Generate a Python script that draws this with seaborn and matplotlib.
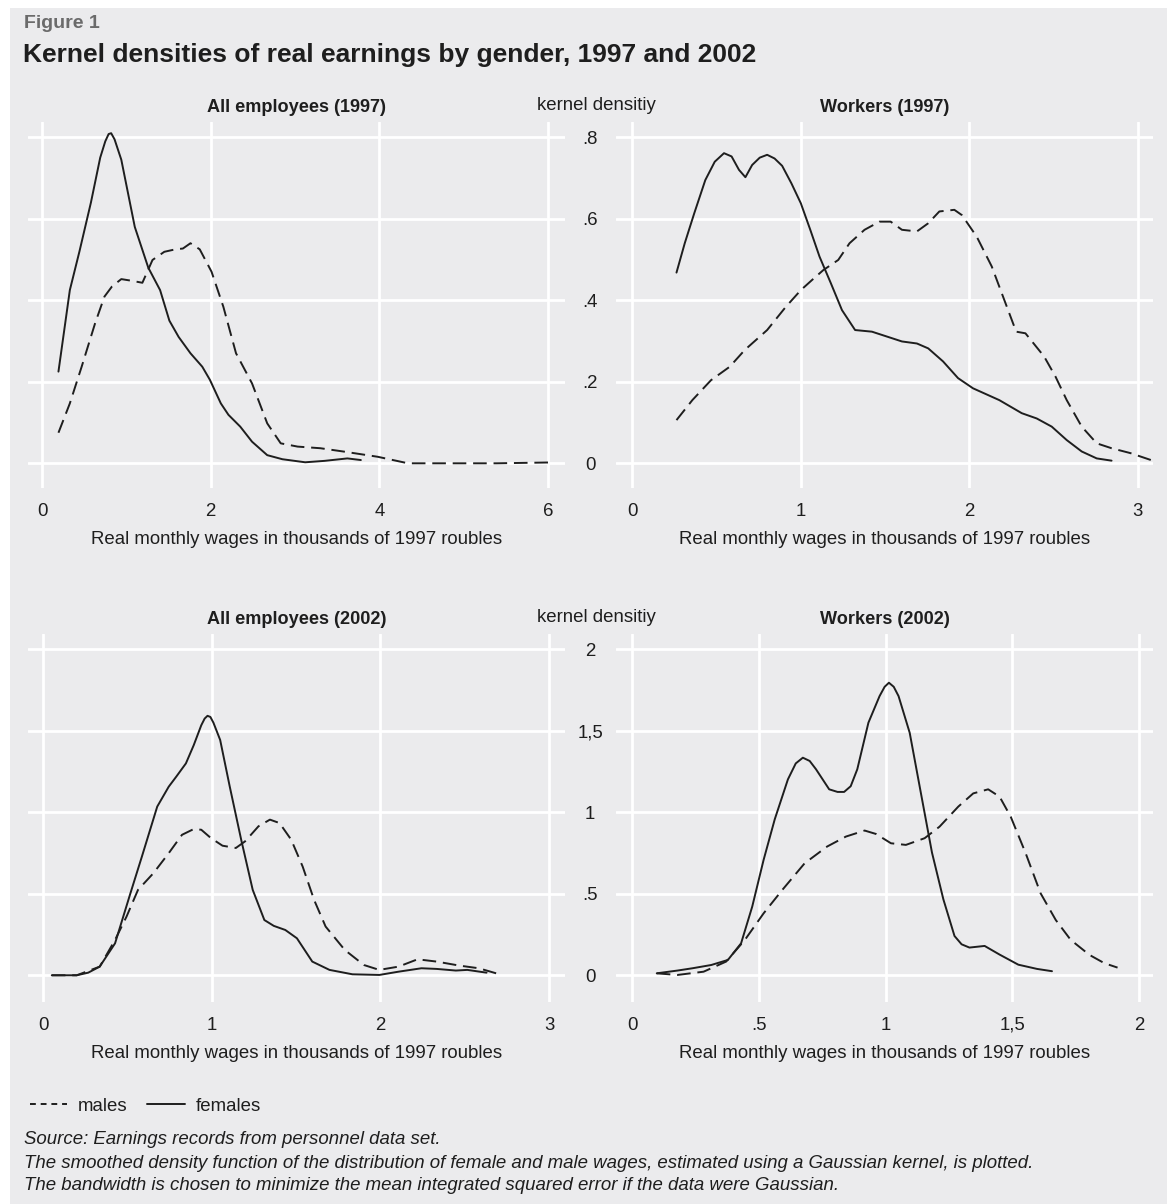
import numpy as np
import pandas as pd
import seaborn as sns
import matplotlib.pyplot as plt
from matplotlib.patches import Rectangle

# ---------------- data ----------------
# All employees (1997)
ae97_f_x = [0.195, 0.33, 0.444, 0.58, 0.69, 0.75, 0.79, 0.82, 0.86, 0.94, 1.10, 1.26, 1.40, 1.51, 1.62, 1.76,
            1.90, 1.99, 2.12, 2.21, 2.35, 2.49, 2.67, 2.85, 3.12, 3.35, 3.62, 3.78]
ae97_f_y = [0.225, 0.425, 0.52, 0.64, 0.75, 0.79, 0.808, 0.81, 0.795, 0.745, 0.58, 0.48, 0.425, 0.35, 0.31,
            0.27, 0.237, 0.205, 0.147, 0.119, 0.09, 0.053, 0.02, 0.01, 0.0025, 0.006, 0.012, 0.008]
ae97_m_x = [0.195, 0.33, 0.47, 0.63, 0.74, 0.83, 0.94, 1.06, 1.19, 1.31, 1.45, 1.58, 1.67, 1.76, 1.87, 2.01,
            2.15, 2.30, 2.49, 2.67, 2.83, 3.03, 3.30, 3.57, 3.98, 4.34, 4.93, 5.39, 6.0]
ae97_m_y = [0.075, 0.147, 0.237, 0.344, 0.409, 0.434, 0.452, 0.448, 0.443, 0.499, 0.519, 0.525, 0.527, 0.54,
            0.525, 0.47, 0.384, 0.27, 0.196, 0.098, 0.049, 0.041, 0.037, 0.029, 0.016, 0.0, 0.0, 0.0, 0.002]

# Workers (1997)
wk97_f_x = [0.262, 0.311, 0.367, 0.433, 0.489, 0.544, 0.589, 0.633, 0.671, 0.711, 0.756, 0.80, 0.844, 0.889,
            0.944, 1.0, 1.056, 1.111, 1.178, 1.244, 1.322, 1.422, 1.511, 1.60, 1.689, 1.756, 1.844, 1.933,
            2.022, 2.178, 2.311, 2.40, 2.489, 2.578, 2.667, 2.756, 2.844]
wk97_f_y = [0.468, 0.54, 0.613, 0.695, 0.74, 0.761, 0.753, 0.72, 0.702, 0.732, 0.75, 0.757, 0.748, 0.73,
            0.687, 0.638, 0.573, 0.507, 0.442, 0.376, 0.327, 0.323, 0.311, 0.299, 0.294, 0.282, 0.25, 0.209,
            0.184, 0.155, 0.123, 0.11, 0.09, 0.057, 0.029, 0.012, 0.0065]
wk97_m_x = [0.262, 0.356, 0.467, 0.578, 0.667, 0.80, 0.911, 1.0, 1.067, 1.133, 1.222, 1.289, 1.378, 1.467,
            1.533, 1.60, 1.689, 1.756, 1.822, 1.911, 1.956, 2.044, 2.133, 2.20, 2.278, 2.333, 2.444, 2.511,
            2.578, 2.667, 2.756, 2.844, 2.956, 3.078]
wk97_m_y = [0.106, 0.155, 0.204, 0.237, 0.278, 0.327, 0.384, 0.425, 0.45, 0.474, 0.499, 0.54, 0.573, 0.593,
            0.593, 0.573, 0.569, 0.589, 0.618, 0.622, 0.609, 0.556, 0.483, 0.409, 0.323, 0.319, 0.262, 0.213,
            0.155, 0.09, 0.049, 0.037, 0.025, 0.008]

# All employees (2002)
ae02_f_x = [0.052, 0.2, 0.268, 0.336, 0.427, 0.518, 0.586, 0.677, 0.745, 0.79, 0.847, 0.893, 0.938, 0.958,
            0.975, 0.992, 1.01, 1.05, 1.107, 1.175, 1.243, 1.312, 1.368, 1.436, 1.505, 1.596, 1.698, 1.834,
            1.993, 2.107, 2.243, 2.333, 2.447, 2.515, 2.629]
ae02_f_y = [0.0, 0.0, 0.016, 0.053, 0.196, 0.503, 0.728, 1.035, 1.157, 1.219, 1.30, 1.411, 1.534, 1.575,
            1.592, 1.585, 1.55, 1.444, 1.157, 0.83, 0.524, 0.339, 0.303, 0.278, 0.227, 0.084, 0.033, 0.006,
            0.002, 0.022, 0.043, 0.039, 0.029, 0.033, 0.016]
ae02_m_x = [0.052, 0.2, 0.336, 0.427, 0.495, 0.563, 0.654, 0.745, 0.824, 0.893, 0.938, 0.995, 1.064, 1.143,
            1.198, 1.277, 1.345, 1.402, 1.471, 1.539, 1.607, 1.675, 1.789, 1.902, 1.993, 2.107, 2.22, 2.333,
            2.47, 2.583, 2.686]
ae02_m_y = [0.0, 0.0, 0.053, 0.217, 0.36, 0.524, 0.626, 0.749, 0.862, 0.897, 0.893, 0.842, 0.795, 0.781,
            0.822, 0.914, 0.955, 0.934, 0.832, 0.667, 0.462, 0.299, 0.155, 0.063, 0.033, 0.053, 0.098, 0.084,
            0.059, 0.043, 0.012]

# Workers (2002)
wk02_f_x = [0.096, 0.178, 0.237, 0.311, 0.377, 0.429, 0.473, 0.518, 0.562, 0.614, 0.645, 0.673, 0.70, 0.725,
            0.777, 0.81, 0.836, 0.862, 0.888, 0.932, 0.976, 0.996, 1.013, 1.032, 1.051, 1.095, 1.139, 1.183,
            1.228, 1.272, 1.30, 1.331, 1.391, 1.45, 1.524, 1.598, 1.657]
wk02_f_y = [0.012, 0.029, 0.043, 0.063, 0.094, 0.196, 0.421, 0.708, 0.957, 1.202, 1.30, 1.335, 1.315, 1.264,
            1.141, 1.125, 1.125, 1.16, 1.264, 1.55, 1.713, 1.77, 1.795, 1.77, 1.713, 1.488, 1.12, 0.753,
            0.466, 0.241, 0.19, 0.17, 0.18, 0.127, 0.065, 0.039, 0.025]
wk02_m_x = [0.096, 0.178, 0.281, 0.37, 0.444, 0.518, 0.592, 0.68, 0.769, 0.843, 0.917, 0.962, 1.021, 1.08,
            1.154, 1.213, 1.287, 1.346, 1.405, 1.45, 1.494, 1.553, 1.612, 1.672, 1.731, 1.805, 1.864, 1.916]
wk02_m_y = [0.012, 0.002, 0.022, 0.084, 0.217, 0.38, 0.524, 0.687, 0.79, 0.851, 0.888, 0.867, 0.81, 0.8,
            0.841, 0.912, 1.035, 1.116, 1.141, 1.096, 0.973, 0.749, 0.503, 0.339, 0.217, 0.125, 0.074, 0.047]

panel_titles = ["All employees (1997)", "Workers (1997)", "All employees (2002)", "Workers (2002)"]
top_yticks = [0, 0.2, 0.4, 0.6, 0.8]
top_ylabels = ["0", ".2", ".4", ".6", ".8"]
bot_yticks = [0, 0.5, 1, 1.5, 2]
bot_ylabels = ["0", ".5", "1", "1,5", "2"]
x_ticks = [[0, 2, 4, 6], [0, 1, 2, 3], [0, 1, 2, 3], [0, 0.5, 1, 1.5, 2]]
x_labels = [["0", "2", "4", "6"], ["0", "1", "2", "3"], ["0", "1", "2", "3"], ["0", ".5", "1", "1,5", "2"]]
x_lims = [(-0.166, 6.20), (-0.097, 3.09), (-0.089, 3.094), (-0.065, 2.056)]

series = [
    (ae97_m_x, ae97_m_y, ae97_f_x, ae97_f_y),
    (wk97_m_x, wk97_m_y, wk97_f_x, wk97_f_y),
    (ae02_m_x, ae02_m_y, ae02_f_x, ae02_f_y),
    (wk02_m_x, wk02_m_y, wk02_f_x, wk02_f_y),
]

# ---------------- style ----------------
BG = "#ebebed"
INK = "#1e1e1e"
sns.set_theme(style="darkgrid", rc={
    "axes.facecolor": BG, "figure.facecolor": "white", "grid.color": "white",
    "grid.linewidth": 2.0, "axes.edgecolor": BG,
})
plt.rcParams["font.family"] = ["Liberation Sans", "DejaVu Sans"]
plt.rcParams["text.color"] = INK

W, H = 1167, 1204
fig = plt.figure(figsize=(W / 100, H / 100), dpi=100)
fig.patches.append(Rectangle((10 / W, 0), 1 - 10 / W, 1 - 8 / H, transform=fig.transFigure,
                             facecolor=BG, edgecolor="none", zorder=-10))


def px_axes(l, t, r, b):
    return fig.add_axes([l / W, 1 - b / H, (r - l) / W, (b - t) / H])


boxes = [(28, 122, 565, 488), (616, 122, 1153, 488), (28, 634, 565, 1002), (616, 634, 1153, 1002)]
ylims = [(-0.0606, 0.8375), (-0.0606, 0.8375), (-0.164, 2.094), (-0.164, 2.094)]

FS = 13.4
axes = []
for i, box in enumerate(boxes):
    ax = px_axes(*box)
    mx, my, fx, fy = series[i]
    df = pd.concat([
        pd.DataFrame({"wage": mx, "density": my, "gender": "males"}),
        pd.DataFrame({"wage": fx, "density": fy, "gender": "females"}),
    ])
    sns.lineplot(data=df, x="wage", y="density", style="gender", style_order=["males", "females"],
                 dashes={"males": (7, 3.5), "females": ""}, color=INK, linewidth=1.4,
                 estimator=None, sort=False, ax=ax, legend=(i == 0))
    ax.set_xlim(*x_lims[i])
    ax.set_ylim(*ylims[i])
    ax.set_xticks(x_ticks[i])
    ax.set_xticklabels(x_labels[i], fontsize=FS, color=INK)
    if i < 2:
        ax.set_yticks(top_yticks)
        ylabels = top_ylabels
    else:
        ax.set_yticks(bot_yticks)
        ylabels = bot_ylabels
    if i % 2 == 1:
        ax.set_yticklabels(ylabels, fontsize=FS, color=INK, ha="center")
        ax.tick_params(axis="y", pad=18.7, length=0)
    else:
        ax.set_yticklabels([])
        ax.tick_params(axis="y", length=0, labelleft=False)
    ax.tick_params(axis="x", pad=10.5, length=0)
    ax.set_xlabel("Real monthly wages in thousands of 1997 roubles", fontsize=FS, color=INK, labelpad=8)
    ax.set_ylabel("")
    ax.set_title(panel_titles[i], fontsize=13.1, fontweight="bold", color=INK, pad=7)
    for s in ax.spines.values():
        s.set_visible(False)
    axes.append(ax)

# legend
handles, labels = axes[0].get_legend_handles_labels()
axes[0].get_legend().remove()
leg = fig.legend(handles, labels, loc="center left", bbox_to_anchor=(13 / W, 1 - 1106 / H), ncol=2,
                 frameon=False, fontsize=FS, handlelength=2.0, handletextpad=0.6, columnspacing=1.05)
leg.get_lines()[0].set_dashes([3, 2.5])
for t in leg.get_texts():
    t.set_color(INK)

# y-axis label between panels
for yc in (105, 617):
    fig.text(596 / W, 1 - yc / H, "kernel densitiy", ha="center", va="center", fontsize=FS, color=INK)

# header
fig.text(24 / W, 1 - 24 / H, "Figure 1", ha="left", va="center", fontsize=14, fontweight="bold", color="#6b6b6b")
fig.text(23 / W, 1 - 55 / H, "Kernel densities of real earnings by gender, 1997 and 2002", ha="left",
         va="center", fontsize=19, fontweight="bold", color=INK)

# source notes
notes = ["Source: Earnings records from personnel data set.",
         "The smoothed density function of the distribution of female and male wages, estimated using a Gaussian kernel, is plotted.",
         "The bandwidth is chosen to minimize the mean integrated squared error if the data were Gaussian."]
for yc, txt in zip((1139, 1163, 1186), notes):
    fig.text(24 / W, 1 - yc / H, txt, ha="left", va="center", fontsize=FS, style="italic", color=INK)

fig.savefig("out.png", dpi=100)
